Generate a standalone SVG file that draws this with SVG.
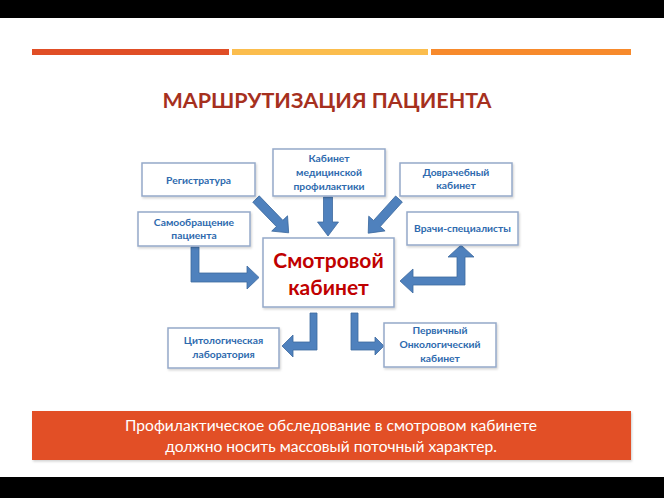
<svg xmlns="http://www.w3.org/2000/svg" width="664" height="498" viewBox="0 0 664 498">
<style>
.box{fill:#ffffff;stroke:#95a9c9;stroke-width:1.5}
.lbl{font-family:Lato,"Open Sans","Liberation Sans",sans-serif;font-weight:bold;font-size:10.3px;fill:#2e6aae;text-anchor:middle}
.arr{fill:#4f81bd;stroke:#3d6a9f;stroke-width:0.8;stroke-linejoin:miter}
.main{font-family:Lato,"Open Sans","Liberation Sans",sans-serif;font-weight:bold;font-size:21px;fill:#c00000;text-anchor:middle}
.ban{font-family:Lato,"Open Sans","Liberation Sans",sans-serif;font-size:15.6px;fill:#ffffff;text-anchor:middle}
</style>
<defs>
<filter id="sh" x="-10%" y="-10%" width="130%" height="140%">
<feDropShadow dx="1" dy="1.5" stdDeviation="1" flood-color="#000" flood-opacity="0.18"/>
</filter>
</defs>
<rect x="0" y="0" width="664" height="498" fill="#ffffff"/>
<rect x="0" y="0" width="664" height="18" fill="#000000"/>
<rect x="0" y="477" width="664" height="21" fill="#000000"/>
<rect x="32" y="49" width="197" height="6" fill="#e04e26"/>
<rect x="232" y="49" width="196" height="6" fill="#fbbd4d"/>
<rect x="431" y="49" width="200" height="6" fill="#f78a2c"/>
<text x="327" y="108" font-family="Lato,'Open Sans','Liberation Sans',sans-serif" font-weight="bold" font-size="21.5" fill="#a6301e" text-anchor="middle">МАРШРУТИЗАЦИЯ ПАЦИЕНТА</text>

<g id="connectors">
<polygon class="arr" transform="translate(256,199) rotate(46)" points="0,-4.5 34,-4.5 34,-11 47,0 34,11 34,4.5 0,4.5"/>
<polygon class="arr" transform="translate(328,197) rotate(90)" points="0,-4.5 25,-4.5 25,-10.5 39,0 25,10.5 25,4.5 0,4.5"/>
<polygon class="arr" transform="translate(399,199) rotate(132)" points="0,-4.5 33,-4.5 33,-11 46,0 33,11 33,4.5 0,4.5"/>
<polygon class="arr" points="191,247 199,247 199,273 247,273 247,266 259,277.5 247,289 247,282 191,282"/>
<polygon class="arr" points="400,281 413,269 413,277 457,277 457,257 448,257 461,245 474,257 465,257 465,285 413,285 413,293"/>
<polygon class="arr" points="310,313 317,313 317,350 293,350 293,357 282,346 293,335 293,342 310,342"/>
<polygon class="arr" points="351,313 358,313 358,342 375,342 375,337 384,346 375,355 375,350 351,350"/>
</g>

<g id="registratura">
<rect class="box" x="142" y="163" width="113" height="33" filter="url(#sh)"/>
<text class="lbl" x="198.5" y="183.5">Регистратура</text>
</g>
<g id="kabinet-profilaktiki">
<rect class="box" x="273" y="149" width="112" height="47" filter="url(#sh)"/>
<text class="lbl" x="329" y="162">Кабинет</text>
<text class="lbl" x="329" y="176">медицинской</text>
<text class="lbl" x="329" y="190">профилактики</text>
</g>
<g id="dovrachebny">
<rect class="box" x="400" y="163" width="112" height="33" filter="url(#sh)"/>
<text class="lbl" x="456" y="176">Доврачебный</text>
<text class="lbl" x="456" y="189">кабинет</text>
</g>
<g id="samoobrashchenie">
<rect class="box" x="138" y="212" width="112" height="34" filter="url(#sh)"/>
<text class="lbl" x="194" y="226">Самообращение</text>
<text class="lbl" x="194" y="239">пациента</text>
</g>
<g id="vrachi">
<rect class="box" x="407" y="212" width="111" height="33" filter="url(#sh)"/>
<text class="lbl" x="462.5" y="232">Врачи-специалисты</text>
</g>
<g id="smotrovoy">
<rect class="box" x="263" y="238" width="131" height="69" filter="url(#sh)"/>
<text class="main" x="328.5" y="268">Смотровой</text>
<text class="main" x="328.5" y="295">кабинет</text>
</g>
<g id="citologicheskaya">
<rect class="box" x="168" y="328" width="111" height="40" filter="url(#sh)"/>
<text class="lbl" x="223.5" y="344">Цитологическая</text>
<text class="lbl" x="223.5" y="358">лаборатория</text>
</g>
<g id="onkologichesky">
<rect class="box" x="384" y="323" width="112" height="44" filter="url(#sh)"/>
<text class="lbl" x="440" y="334">Первичный</text>
<text class="lbl" x="440" y="348">Онкологический</text>
<text class="lbl" x="440" y="362">кабинет</text>
</g>

<rect x="32" y="411" width="599" height="49" fill="#e24f26" filter="url(#sh)"/>
<text class="ban" x="331" y="431">Профилактическое обследование в смотровом кабинете</text>
<text class="ban" x="331" y="452">должно носить массовый поточный характер.</text>
</svg>
